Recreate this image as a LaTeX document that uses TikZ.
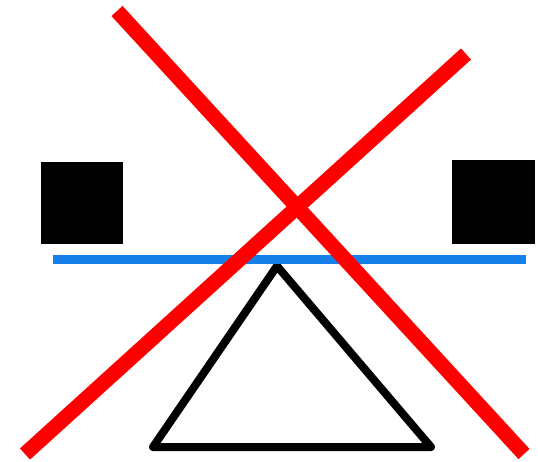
\documentclass[tikz,border=0pt]{standalone}
\usepackage{xcolor}
\usepackage{tikz}

\begin{document}
\begin{tikzpicture}[x=1pt,y=-1pt]

% Colori
\definecolor{colCroce}{HTML}{FF0000}
\definecolor{colAsse}{HTML}{1580E8}

% Area del disegno
\useasboundingbox (0,0) rectangle (538,461);

% Pesi (quadrati neri)
\fill[black] (41,162) rectangle (123,244);
\fill[black] (452,160) rectangle (535,244);

% Fulcro (triangolo)
\draw[black, line width=8pt, line join=round] (277,266) -- (431,447) -- (153,447) -- cycle;

% Asse della bilancia
\draw[colAsse, line width=9pt] (53,259) -- (526,259);

% Croce rossa
\coordinate (c1a) at (117,11);
\coordinate (c1b) at (524,454);
\coordinate (c2a) at (466,54);
\coordinate (c2b) at (25,454);
\draw[colCroce, line width=15pt] (c1a) -- (c1b);
\draw[colCroce, line width=15pt] (c2a) -- (c2b);

\end{tikzpicture}
\end{document}
